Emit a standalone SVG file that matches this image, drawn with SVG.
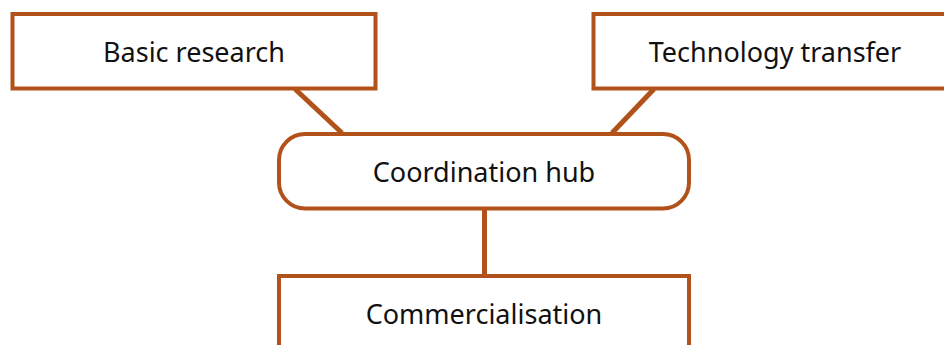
<svg xmlns="http://www.w3.org/2000/svg" width="944" height="345" viewBox="0 0 944 345">
<style>
.box{fill:#ffffff;stroke:#B1521A;stroke-width:4}
.edge{stroke:#B1521A;stroke-width:5;fill:none}
.lbl{font-family:"Noto Sans","Open Sans",sans-serif;font-size:27px;fill:#111111;text-anchor:middle}
</style>
<rect width="944" height="345" fill="#ffffff"/>
<g id="connectors">
<line class="edge" x1="295" y1="89" x2="342" y2="133"/>
<line class="edge" x1="654" y1="89" x2="612" y2="133"/>
<line class="edge" x1="484.5" y1="208" x2="484.5" y2="276"/>
</g>
<g id="basic-research">
<rect class="box" x="12.5" y="14" width="363" height="74.5"/>
<text class="lbl" x="194" y="62">Basic research</text>
</g>
<g id="technology-transfer">
<rect class="box" x="593.5" y="14" width="380" height="74.5"/>
<text class="lbl" x="775" y="62">Technology transfer</text>
</g>
<g id="coordination-hub">
<rect class="box" x="279" y="134" width="410" height="74.5" rx="26" ry="26"/>
<text class="lbl" x="484" y="182">Coordination hub</text>
</g>
<g id="commercialisation">
<rect class="box" x="279" y="276" width="410" height="100"/>
<text class="lbl" x="484" y="324">Commercialisation</text>
</g>
</svg>
